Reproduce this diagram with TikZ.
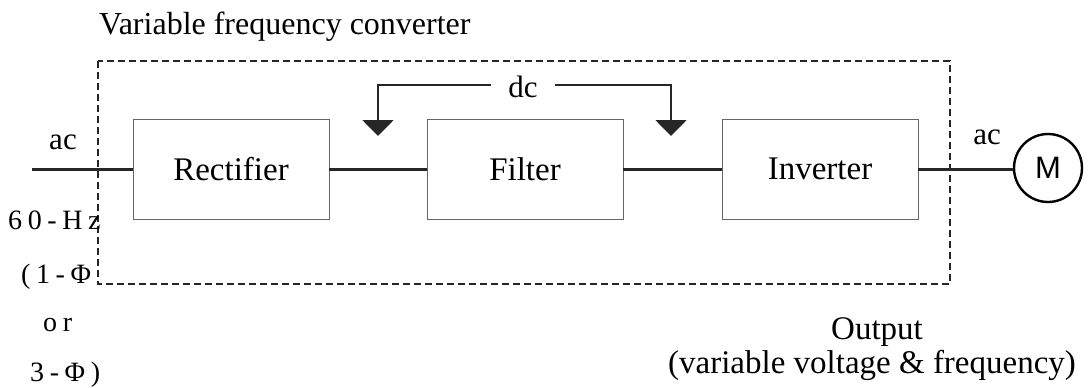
\documentclass[tikz,border=0pt]{standalone}
\usepackage{fontspec}
\setmainfont{Liberation Serif}
\newfontfamily\motorfont{Liberation Sans}
\usetikzlibrary{arrows.meta}
\tikzset{
  stage/.style={draw=black!60, line width=0.9pt, minimum width=196pt, minimum height=100pt,
    inner sep=0pt, font=\fontsize{33}{36}\selectfont},
  wire/.style={line width=3pt, draw=black!85},
  feed/.style={line width=2pt, draw=black!85, -{Triangle[width=31pt,length=16pt]}},
  lbl/.style={inner sep=0pt, font=\fontsize{31}{34}\selectfont},
  spaced/.style={inner sep=0pt, anchor=base west, font=\fontsize{28}{30}\selectfont\addfontfeature{LetterSpace=20}},
  enclosure/.style={draw=black!85, line width=1.6pt, dash pattern=on 7pt off 4pt}
}
\begin{document}
\begin{tikzpicture}[x=1pt,y=-1pt]
\useasboundingbox (0,0) rectangle (1092,388);

% converter enclosure and its caption
\draw[enclosure] (98,61) rectangle (950,284);
\node[inner sep=0pt, anchor=base west, font=\fontsize{32}{34}\selectfont] (title) at (99,34) {Variable frequency converter};

% the three stages
\node[stage] (rect) at (231,169) {Rectifier};
\node[stage] (filt) at (525,169) {Filter};
\node[stage] (inv)  at (820,169) {Inverter};

% motor
\node[draw, circle, line width=2.4pt, minimum size=68pt, inner sep=0pt,
      font=\motorfont\fontsize{31}{33}\selectfont] (mot) at (1048,168) {M};

% power path
\coordinate (src) at (32,169);
\draw[wire] (src) -- (rect.west);
\draw[wire] (rect.east) -- (filt.west);
\draw[wire] (filt.east) -- (inv.west);
\draw[wire] (inv.east) -- (inv.east -| mot.west);

\node[lbl] (acin)  at (63,142) {ac};
\node[lbl] (acout) at (987,137) {ac};

% dc link indication
\node[lbl, minimum width=64pt] (dc) at (523,87) {dc};
\coordinate (tipL) at (378,136);
\coordinate (tipR) at (671,136);
\draw[feed] (dc.west |- 0,85) -| (tipL);
\draw[feed] (dc.east |- 0,85) -| (tipR);

% supply description
\node[spaced] (hz)  at (8,229)  {60-Hz};
\node[spaced] (ph1) at (21,283) {(1-Φ};
\node[spaced] (or)  at (43,331) {or};
\node[spaced] (ph3) at (30,381) {3-Φ)};

% output description
\node[inner sep=0pt, anchor=base, font=\fontsize{33}{36}\selectfont] (out1) at (877,339) {Output};
\node[inner sep=0pt, anchor=base, font=\fontsize{33}{36}\selectfont] (out2) at (872,373) {(variable voltage \& frequency)};
\end{tikzpicture}
\end{document}
